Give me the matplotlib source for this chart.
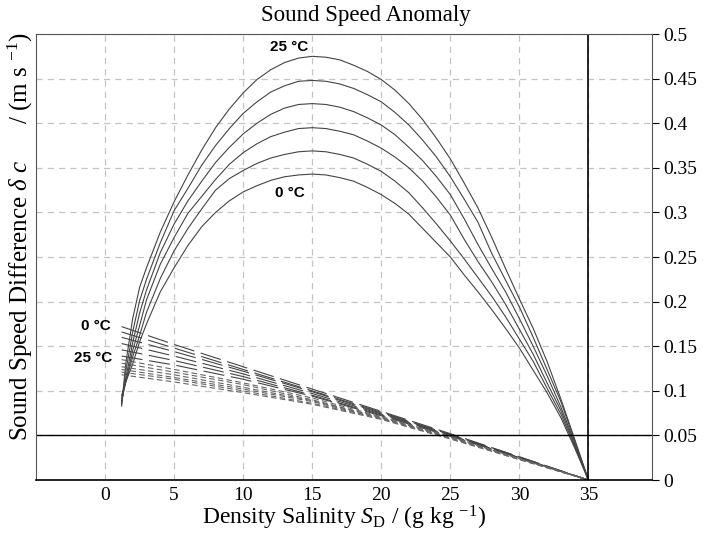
import matplotlib
matplotlib.use('Agg')
import matplotlib.pyplot as plt
import numpy as np

plt.rcParams['font.family'] = ['Liberation Serif', 'DejaVu Serif']
plt.rcParams['mathtext.fontset'] = 'custom'
plt.rcParams['mathtext.rm'] = 'Liberation Serif'
plt.rcParams['mathtext.it'] = 'Liberation Serif:italic'

# density salinity grid of the solid curves
s_solid = [1.2, 1.5, 2, 2.5, 3, 4, 5, 6, 7, 8, 9, 10, 11, 12, 13, 14, 15, 16, 17, 18, 19,
           20, 21, 22, 23, 24, 25, 26, 27, 28, 29, 30, 31, 32, 33, 34, 35]
dc_t0 = [0.095, 0.110, 0.130, 0.155, 0.175, 0.211, 0.238, 0.263, 0.284, 0.300, 0.313, 0.323,
         0.330, 0.336, 0.340, 0.342, 0.343, 0.342, 0.339, 0.335, 0.328, 0.320, 0.310, 0.298,
         0.282, 0.266, 0.250, 0.230, 0.211, 0.191, 0.170, 0.148, 0.123, 0.098, 0.070, 0.036, 0.0]
dc_t5 = [0.092, 0.110, 0.138, 0.162, 0.188, 0.226, 0.257, 0.282, 0.304, 0.325, 0.338, 0.347,
         0.355, 0.361, 0.365, 0.368, 0.369, 0.368, 0.365, 0.361, 0.354, 0.346, 0.335, 0.322,
         0.305, 0.287, 0.268, 0.248, 0.227, 0.206, 0.183, 0.158, 0.133, 0.103, 0.074, 0.038, 0.0]
dc_t10 = [0.089, 0.110, 0.145, 0.173, 0.202, 0.242, 0.272, 0.299, 0.318, 0.337, 0.354, 0.367,
          0.377, 0.385, 0.390, 0.394, 0.395, 0.394, 0.391, 0.387, 0.380, 0.372, 0.362, 0.350,
          0.335, 0.317, 0.297, 0.270, 0.245, 0.222, 0.197, 0.169, 0.141, 0.109, 0.078, 0.040, 0.0]
dc_t15 = [0.087, 0.114, 0.154, 0.187, 0.213, 0.255, 0.287, 0.313, 0.335, 0.356, 0.373, 0.388,
          0.400, 0.410, 0.417, 0.421, 0.422, 0.421, 0.418, 0.413, 0.406, 0.398, 0.387, 0.373,
          0.358, 0.340, 0.320, 0.293, 0.264, 0.237, 0.211, 0.181, 0.150, 0.117, 0.082, 0.042, 0.0]
dc_t20 = [0.085, 0.122, 0.166, 0.201, 0.225, 0.266, 0.302, 0.327, 0.353, 0.375, 0.394, 0.411,
          0.424, 0.435, 0.442, 0.447, 0.448, 0.447, 0.444, 0.439, 0.432, 0.424, 0.412, 0.398,
          0.381, 0.362, 0.340, 0.315, 0.289, 0.254, 0.224, 0.194, 0.160, 0.124, 0.088, 0.044, 0.0]
dc_t25 = [0.083, 0.131, 0.181, 0.216, 0.238, 0.278, 0.312, 0.342, 0.370, 0.395, 0.416, 0.434,
          0.449, 0.460, 0.468, 0.473, 0.475, 0.474, 0.471, 0.465, 0.458, 0.449, 0.437, 0.422,
          0.404, 0.383, 0.360, 0.333, 0.305, 0.272, 0.237, 0.203, 0.170, 0.133, 0.091, 0.046, 0.0]
solid_curves = [dc_t0, dc_t5, dc_t10, dc_t15, dc_t20, dc_t25]

# dashed curves
s_dash = [1.2, 5, 10, 15, 20, 25, 30, 35]
long_dash = [
    [0.172, 0.152, 0.127, 0.102, 0.077, 0.052, 0.026, 0.0],
    [0.166, 0.148, 0.124, 0.100, 0.076, 0.051, 0.026, 0.0],
    [0.160, 0.144, 0.122, 0.099, 0.075, 0.051, 0.025, 0.0],
    [0.153, 0.139, 0.119, 0.097, 0.074, 0.050, 0.025, 0.0],
    [0.146, 0.134, 0.116, 0.095, 0.073, 0.050, 0.025, 0.0],
    [0.139, 0.129, 0.113, 0.094, 0.072, 0.049, 0.025, 0.0],
]
short_dash = [
    [0.135, 0.124, 0.109, 0.092, 0.071, 0.049, 0.024, 0.0],
    [0.131, 0.121, 0.107, 0.090, 0.070, 0.048, 0.024, 0.0],
    [0.127, 0.118, 0.104, 0.089, 0.070, 0.048, 0.024, 0.0],
    [0.124, 0.115, 0.102, 0.088, 0.069, 0.047, 0.024, 0.0],
    [0.121, 0.113, 0.100, 0.086, 0.069, 0.047, 0.023, 0.0],
    [0.118, 0.110, 0.098, 0.085, 0.068, 0.046, 0.023, 0.0],
]

xticks = [0, 5, 10, 15, 20, 25, 30, 35]
yticks = [0, 0.05, 0.1, 0.15, 0.2, 0.25, 0.3, 0.35, 0.4, 0.45, 0.5]
ytick_labels = ['0', '0.05', '0.1', '0.15', '0.2', '0.25', '0.3', '0.35', '0.4', '0.45', '0.5']

fig = plt.figure(figsize=(7.06, 5.4), dpi=100)
ax = fig.add_axes([0.051, 0.111, 0.8725, 0.826])

for yv in yticks[1:]:
    ax.axhline(yv, color='#c4c4c4', lw=0.9, dashes=(5, 4), zorder=0)
for xv in xticks:
    ax.axvline(xv, color='#c4c4c4', lw=0.9, dashes=(5, 4), zorder=0)

for dc in solid_curves:
    ax.plot(s_solid, dc, color='#444444', lw=0.8)
for dc in long_dash:
    ax.plot(s_dash, dc, color='#444444', lw=0.8, dashes=(19, 6))
for dc in short_dash:
    ax.plot(s_dash, dc, color='#666666', lw=0.8, dashes=(5, 3))

ax.axhline(0.05, color='black', lw=1.0)
ax.axvline(35, color='black', lw=1.2)

lab = dict(family='Liberation Sans', fontweight='bold', fontsize=11, stretch='condensed')
ax.text(13.3, 0.486, '25 °C', ha='center', va='center', **lab)
ax.text(13.4, 0.322, '0 °C', ha='center', va='center', **lab)
ax.text(0.4, 0.173, '0 °C', ha='right', va='center', **lab)
ax.text(0.5, 0.137, '25 °C', ha='right', va='center', **lab)

ax.set_xlim(-5, 39.6)
ax.set_ylim(0, 0.5)
ax.set_xticks(xticks)
ax.set_yticks(yticks)
ax.set_yticklabels(ytick_labels)
ax.yaxis.tick_right()
ax.tick_params(axis='y', direction='out', length=5, labelsize=14, pad=3)
ax.tick_params(axis='x', length=0, labelsize=14, pad=5)

for side in ['top', 'left', 'right']:
    ax.spines[side].set_color('#555555')
    ax.spines[side].set_linewidth(0.8)
ax.spines['bottom'].set_linewidth(1.2)

ax.set_xlabel(r'Density Salinity $S$$_{\mathrm{D}}$ / (g kg $^{\mathrm{-1}}$)', fontsize=17, labelpad=0)
fig.text(0.008, 0.562, r'Sound Speed Difference $\delta$ $c$      / (m s $^{\mathrm{-1}}$)',
         rotation=90, ha='left', va='center', fontsize=18)
fig.text(0.518, 0.972, 'Sound Speed Anomaly', ha='center', va='center', fontsize=16.5)

fig.savefig('out.png', dpi=100)
